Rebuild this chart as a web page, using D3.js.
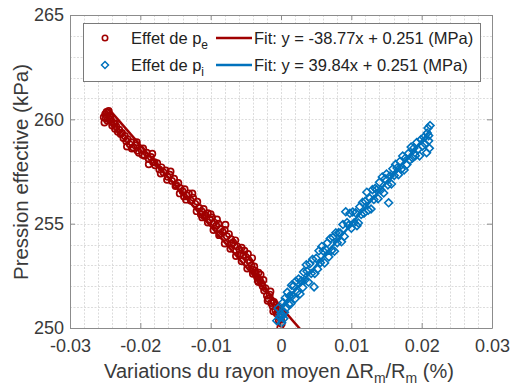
<!DOCTYPE html>
<html><head><meta charset="utf-8">
<script src="https://cdn.jsdelivr.net/npm/d3@7"></script>
<style>
body{margin:0;background:#fff}
svg{display:block}
text{font-family:"Liberation Sans",Arial,Helvetica,sans-serif}
</style>
</head><body>
<svg id="chart" width="512" height="387"></svg>
<script>
// ---------------- data ----------------
const redX = [-0.0250,-0.0248,-0.0246,-0.0244,-0.0249,-0.0251,-0.0247,-0.0243,-0.0241,-0.0245,
-0.0240,-0.0238,-0.0236,-0.0234,-0.0232,-0.0230,-0.0228,-0.0226,-0.0224,-0.0222,
-0.0220,-0.0218,-0.0215,-0.0213,-0.0210,-0.0207,-0.0204,-0.0202,-0.0199,-0.0197,
-0.0194,-0.0191,-0.0188,-0.0185,-0.0182,-0.0179,-0.0176,-0.0173,-0.0170,-0.0167,
-0.0164,-0.0161,-0.0158,-0.0155,-0.0152,-0.0149,-0.0146,-0.0143,-0.0140,-0.0137,
-0.0134,-0.0131,-0.0128,-0.0125,-0.0122,-0.0119,-0.0116,-0.0113,-0.0110,-0.0107,
-0.0104,-0.0101,-0.0098,-0.0095,-0.0092,-0.0089,-0.0086,-0.0083,-0.0080,-0.0077,
-0.0074,-0.0071,-0.0068,-0.0065,-0.0062,-0.0059,-0.0056,-0.0053,-0.0050,-0.0047,
-0.0044,-0.0042,-0.0040,-0.0038,-0.0036,-0.0034,-0.0032,-0.0030,-0.0028,-0.0026,
-0.0024,-0.0022,-0.0020,-0.0018,-0.0016,-0.0014,-0.0012,-0.0010,-0.0008,-0.0006,
-0.0004,-0.0002,0.0000,0.0001,-0.0001,
-0.0236,-0.0219,-0.0196,-0.0183,-0.0171,-0.0157,-0.0144,-0.0126,-0.0114,-0.0100,
-0.0087,-0.0079,-0.0066,-0.0058,-0.0046,-0.0041,-0.0033,-0.0025,-0.0019,-0.0011,
-0.0007,-0.0003,-0.0252,-0.0242,-0.0212,-0.0188,-0.0162,-0.0135,-0.0109,-0.0091,
-0.0070,-0.0052,-0.0037,-0.0029,-0.0015,
-0.0120,-0.0112,-0.0104,-0.0096,-0.0088,-0.0080,-0.0072,-0.0064,-0.0056,-0.0048,
-0.0040,-0.0032,-0.0150,-0.0138,-0.0180,-0.0205];
const redY = [260.25,260.35,260.30,260.20,260.05,259.85,259.95,260.10,259.90,260.40,
259.70,259.80,259.55,259.65,259.40,259.50,259.30,259.35,259.10,259.20,
258.95,259.05,258.80,258.90,258.65,258.75,258.50,258.40,258.55,258.30,
258.25,258.40,258.10,258.20,257.95,257.80,257.90,257.60,257.70,257.45,
257.55,257.25,257.35,257.05,257.15,256.85,256.95,256.70,256.55,256.65,
256.35,256.45,256.10,256.25,255.95,256.05,255.75,255.60,255.70,255.40,
255.50,255.20,255.30,255.05,254.90,255.00,254.75,254.60,254.70,254.40,
254.50,254.25,254.10,254.20,253.90,253.75,253.85,253.50,253.40,253.55,
253.15,253.00,252.80,252.95,252.60,252.45,252.65,252.30,252.15,252.00,
251.80,251.90,251.55,251.40,251.60,251.20,251.05,251.25,250.85,250.70,
250.90,250.55,250.40,250.20,250.00,
259.80,258.70,258.60,258.35,257.40,257.50,256.45,256.45,255.45,255.45,
254.50,254.95,253.95,253.55,253.25,253.35,252.25,252.30,251.30,250.80,
251.10,250.35,260.10,260.00,258.60,257.85,257.10,256.15,255.35,255.20,
254.05,253.70,252.75,252.55,251.75,
255.60,255.30,255.05,254.70,254.45,254.05,253.80,253.45,253.20,252.85,
252.60,252.20,256.80,256.30,257.95,258.90];

const blueX = [-0.0002,0.0000,0.0002,0.0003,0.0005,0.0006,0.0008,0.0009,0.0011,0.0012,
0.0014,0.0015,0.0016,0.0018,0.0020,0.0021,0.0023,0.0025,0.0027,0.0029,
0.0031,0.0032,0.0034,0.0036,0.0037,0.0039,0.0041,0.0043,0.0045,0.0047,
0.0048,0.0050,0.0052,0.0054,0.0056,0.0058,0.0060,0.0062,0.0064,0.0066,
0.0068,0.0070,0.0072,0.0074,0.0076,0.0078,0.0080,0.0082,0.0084,0.0086,
0.0088,0.0090,0.0092,0.0094,0.0096,0.0098,0.0100,0.0102,0.0104,0.0106,
0.0108,0.0110,0.0112,0.0114,0.0116,0.0118,0.0120,0.0122,0.0124,0.0126,
0.0128,0.0130,0.0132,0.0134,0.0136,0.0138,0.0140,0.0142,0.0144,0.0146,
0.0148,0.0150,0.0152,0.0153,0.0155,0.0157,0.0159,0.0161,0.0163,0.0165,
0.0167,0.0169,0.0171,0.0173,0.0175,0.0177,0.0179,0.0181,0.0183,0.0185,
0.0187,0.0189,0.0191,0.0193,0.0195,0.0197,0.0199,0.0201,0.0203,0.0205,
0.0207,0.0208,0.0209,0.0210,0.0211,0.0212,0.0210,
-0.0006,-0.0004,0.0001,0.0004];
const blueY = [250.52,250.70,250.58,251.22,250.75,251.44,250.97,251.71,251.14,251.53,
251.16,252.05,251.54,252.02,251.40,252.24,251.72,252.35,251.63,252.26,
251.94,252.68,252.30,253.03,252.72,252.20,253.08,252.61,253.29,251.97,
252.61,253.34,252.82,253.70,253.13,253.91,253.69,253.12,253.75,254.08,
253.41,254.29,253.72,254.35,253.68,254.56,254.09,254.57,254.55,254.13,
254.96,254.39,255.57,255.05,254.92,255.50,254.78,255.56,255.04,255.52,
254.90,255.03,255.81,255.44,256.02,255.50,256.08,256.51,255.64,256.22,
255.70,256.63,256.16,256.69,256.62,256.20,256.98,256.61,257.24,256.47,
257.15,257.38,256.86,256.00,257.28,256.90,257.63,257.31,257.84,257.67,
257.35,257.98,257.61,258.24,257.57,258.15,257.83,258.36,258.04,258.67,
258.15,258.63,258.26,258.89,258.57,258.25,259.03,258.71,259.14,258.82,
258.40,259.34,259.58,259.22,258.61,259.70,258.97,
250.35,250.95,250.25,250.45];

const xTicks = [-0.03, -0.02, -0.01, 0, 0.01, 0.02, 0.03];
const yTicks = [250, 255, 260, 265];
const fitSlopes = [-38.77, 39.84];   // MPa
const fitIntercept = 0.251;          // MPa
const fitXRanges = [[-0.0245, 0.004], [-0.001, 0.0212]];
const seriesNames = ["Effet de p", "Effet de p"];
const seriesSubs = ["e", "i"];
const fitLabels = ["Fit: y = -38.77x + 0.251 (MPa)", "Fit: y = 39.84x + 0.251 (MPa)"];
const colors = ["#A00000", "#0072BD"];

// ---------------- layout ----------------
const L = 70, R = 492, T = 15, B = 328;
const svg = d3.select("#chart");
const x = d3.scaleLinear().domain([-0.03, 0.03]).range([L, R]);
const y = d3.scaleLinear().domain([250, 265]).range([B, T]);

// grid
const grid = svg.append("g");
const xMinor = d3.range(-0.03, 0.0301, 0.002).map(v => +v.toFixed(3));
const yMinor = d3.range(250, 265.01, 1);
grid.selectAll("line.vx").data(xMinor).join("line")
  .attr("x1", d => Math.round(x(d)) + 0.5).attr("x2", d => Math.round(x(d)) + 0.5)
  .attr("y1", T).attr("y2", B)
  .attr("stroke", "#dcdcdc").attr("stroke-width", 1).attr("stroke-dasharray", "2,1.5");
grid.selectAll("line.hy").data(yMinor).join("line")
  .attr("y1", d => Math.round(y(d)) + 0.5).attr("y2", d => Math.round(y(d)) + 0.5)
  .attr("x1", L).attr("x2", R)
  .attr("stroke", "#dcdcdc").attr("stroke-width", 1).attr("stroke-dasharray", "2,1.5");

// clip
svg.append("clipPath").attr("id", "clip").append("rect")
  .attr("x", L).attr("y", T).attr("width", R - L).attr("height", B - T);
const plot = svg.append("g").attr("clip-path", "url(#clip)");

const fitY = (s, xv) => (fitIntercept + s * xv / 100) * 1000;
const diamond = (cx, cy, r) => `M${cx},${cy - r}L${cx + r},${cy}L${cx},${cy + r}L${cx - r},${cy}Z`;

// fit lines
[0, 1].forEach(i => {
  const [a, b] = fitXRanges[i];
  plot.append("line")
    .attr("x1", x(a)).attr("y1", y(fitY(fitSlopes[i], a)))
    .attr("x2", x(b)).attr("y2", y(fitY(fitSlopes[i], b)))
    .attr("stroke", colors[i]).attr("stroke-width", 2.5);
});
// red points
plot.append("g").selectAll("circle").data(redX.map((v, i) => [v, redY[i]])).join("circle")
  .attr("cx", d => x(d[0])).attr("cy", d => y(d[1])).attr("r", 3.1)
  .attr("fill", "none").attr("stroke", colors[0]).attr("stroke-width", 1.7);
// blue points
plot.append("g").selectAll("path").data(blueX.map((v, i) => [v, blueY[i]])).join("path")
  .attr("d", d => diamond(x(d[0]), y(d[1]), 3.9))
  .attr("fill", "none").attr("stroke", colors[1]).attr("stroke-width", 1.6);

// axes
const axColor = "#8c8c8c", txtColor = "#3a3a3a";
const fmt = d => d === 0 ? "0" : d.toFixed(2);
function styleAxis(g) {
  g.select(".domain").attr("stroke", axColor);
  g.selectAll(".tick line").attr("stroke", axColor);
  g.selectAll(".tick text").attr("fill", txtColor).attr("font-size", 18)
    .attr("font-family", '"Liberation Sans",Arial,sans-serif');
}
svg.append("g").attr("transform", `translate(0,${B})`)
  .call(d3.axisBottom(x).tickValues(xTicks).tickFormat(fmt).tickSize(-5).tickSizeOuter(0).tickPadding(11))
  .call(styleAxis);
svg.append("g").attr("transform", `translate(${L},0)`)
  .call(d3.axisLeft(y).tickValues(yTicks).tickSize(-5).tickSizeOuter(0).tickPadding(6))
  .call(styleAxis);
svg.append("g").attr("transform", `translate(0,${T})`)
  .call(d3.axisTop(x).tickValues(xTicks).tickFormat("").tickSize(-5).tickSizeOuter(0))
  .call(styleAxis);
svg.append("g").attr("transform", `translate(${R},0)`)
  .call(d3.axisRight(y).tickValues(yTicks).tickFormat("").tickSize(-5).tickSizeOuter(0))
  .call(styleAxis);

// axis labels
const xl = svg.append("text").attr("x", 279).attr("y", 378).attr("text-anchor", "middle")
  .attr("font-size", 20).attr("fill", txtColor);
xl.append("tspan").text("Variations du rayon moyen ΔR");
xl.append("tspan").attr("dy", 5).attr("font-size", 14).text("m");
xl.append("tspan").attr("dy", -5).text("/R");
xl.append("tspan").attr("dy", 5).attr("font-size", 14).text("m");
xl.append("tspan").attr("dy", -5).text(" (%)");

svg.append("text").attr("text-anchor", "middle")
  .attr("transform", "translate(28,172) rotate(-90)")
  .attr("font-size", 20.5).attr("fill", txtColor).text("Pression effective (kPa)");

// legend
const lg = svg.append("g");
lg.append("rect").attr("x", 83.5).attr("y", 23.5).attr("width", 397).attr("height", 58)
  .attr("fill", "#fff").attr("stroke", "#7a7a7a").attr("stroke-width", 1);
const rows = [38, 65];
rows.forEach((ry, i) => {
  if (i === 0) lg.append("circle").attr("cx", 105).attr("cy", ry).attr("r", 2.7)
    .attr("fill", "none").attr("stroke", colors[0]).attr("stroke-width", 1.6);
  else lg.append("path").attr("d", diamond(105, ry, 3.5))
    .attr("fill", "none").attr("stroke", colors[1]).attr("stroke-width", 1.5);
  const t = lg.append("text").attr("x", 131).attr("y", ry + 6).attr("font-size", 16.5).attr("fill", "#222");
  t.append("tspan").text(seriesNames[i]);
  t.append("tspan").attr("dy", 5).attr("font-size", 12).text(seriesSubs[i]);
  lg.append("line").attr("x1", 216).attr("x2", 252).attr("y1", ry).attr("y2", ry)
    .attr("stroke", colors[i]).attr("stroke-width", 2.5);
  lg.append("text").attr("x", 254).attr("y", ry + 6).attr("font-size", 16.5).attr("fill", "#222")
    .text(fitLabels[i]);
});
</script>
</body></html>
